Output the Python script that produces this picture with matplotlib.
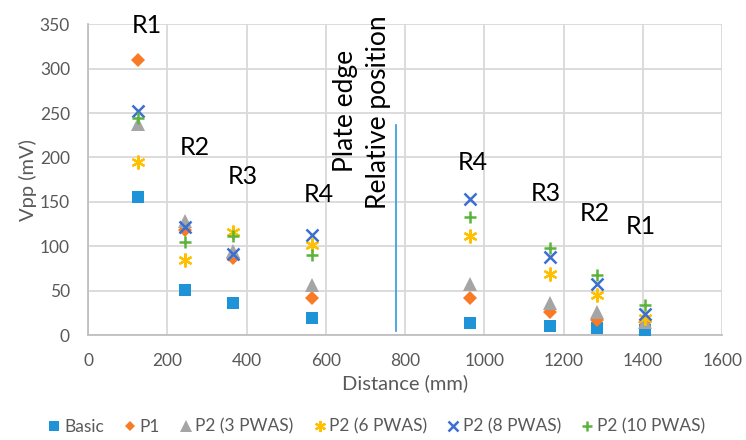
import numpy as np
import matplotlib.pyplot as plt

plt.rcParams['font.family'] = ['Lato', 'DejaVu Sans']

# 距离 (mm)
distance = [125, 245, 365, 565, 965, 1165, 1285, 1405]

# 各系列 Vpp (mV)
basic = [155, 51, 36, 19, 14, 10, 8, 6]
p1 = [310, 118, 87, 42, 42, 26, 17, 15]
p2_3 = [238, 128, 95, 56, 58, 36, 26, 15]
p2_6 = [195, 84, 116, 101, 111, 69, 45, 19]
p2_8 = [252, 122, 91, 113, 153, 88, 57, 24]
p2_10 = [244, 105, 111, 90, 133, 98, 68, 34]

series_names = ['Basic', 'P1', 'P2 (3 PWAS)', 'P2 (6 PWAS)', 'P2 (8 PWAS)', 'P2 (10 PWAS)']

# 区域标签
region_labels = ['R1', 'R2', 'R3', 'R4', 'R4', 'R3', 'R2', 'R1']
region_x = [149, 270, 391, 583, 972, 1154, 1280, 1394]
region_y = [349, 211, 179, 158, 194, 159, 137, 122]

# 板边位置
edge_x = 778
edge_y = [4, 237]

fig = plt.figure(figsize=(7.46, 4.4), dpi=100)
ax = fig.add_axes([0.118, 0.2386, 0.85, 0.7064])

styles = [
    dict(marker='s', color='#1F93D8', ms=9, mew=0),
    dict(marker='D', color='#F97A25', ms=7, mew=0),
    dict(marker='^', color='#A5A5A5', ms=10, mew=0),
    dict(marker=(6, 2, 0), color='#FFC000', ms=10, mew=1.6),
    dict(marker='x', color='#3A6FD0', ms=9, mew=1.8),
    dict(marker='+', color='#5BB33C', ms=9, mew=1.8),
]

all_series = [basic, p1, p2_3, p2_6, p2_8, p2_10]
for name, vals, st in zip(series_names, all_series, styles):
    ax.plot(distance, vals, linestyle='none', marker=st['marker'], color=st['color'],
            markersize=st['ms'], markeredgewidth=st['mew'], label=name, clip_on=False, zorder=3)

for lab, x, y in zip(region_labels, region_x, region_y):
    ax.text(x, y, lab, fontsize=18, ha='center', va='center', color='black', clip_on=False)

ax.plot([edge_x, edge_x], edge_y, color='#2E9BE0', linewidth=1.2)
ax.text(649, 252, 'Plate edge', rotation=90, fontsize=19, ha='center', va='center')
ax.text(732, 251, 'Relative position', rotation=90, fontsize=19, ha='center', va='center')

ax.set_xlim(0, 1600)
ax.set_ylim(0, 350)
ax.set_xticks(np.arange(0, 1601, 200))
ax.set_yticks(np.arange(0, 351, 50))
ax.grid(True, color='#D9D9D9', linewidth=1.3)
ax.set_axisbelow(True)
for s in ['top', 'right']:
    ax.spines[s].set_visible(False)
for s in ['left', 'bottom']:
    ax.spines[s].set_color('#BFBFBF')
    ax.spines[s].set_linewidth(1.3)
ax.tick_params(length=0, labelsize=12.5, labelcolor='#595959')
ax.tick_params(axis='x', pad=13)
ax.tick_params(axis='y', pad=13)

ax.set_xlabel('Distance (mm)', fontsize=14.5, color='#595959', labelpad=4)
ax.set_ylabel('Vpp (mV)', fontsize=14.5, color='#595959', labelpad=2)

fig.legend(loc='center', bbox_to_anchor=(0.503, 0.03), ncol=6, frameon=False,
           fontsize=12.5, handletextpad=0.05, columnspacing=1.0, handlelength=1.0,
           markerscale=0.8, labelcolor='#595959')

fig.savefig('out.png', dpi=100)
